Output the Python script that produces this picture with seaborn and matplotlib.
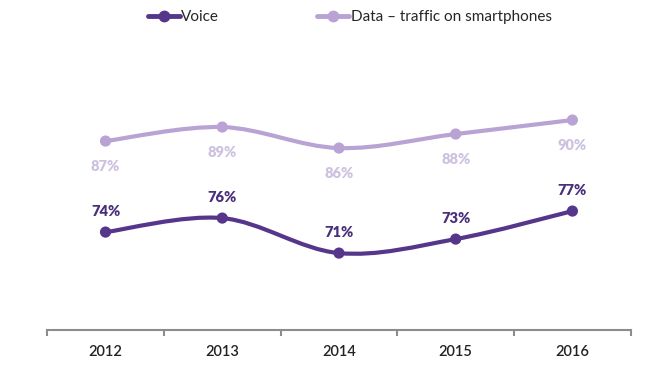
import numpy as np
import pandas as pd
import matplotlib
matplotlib.use("Agg")
import matplotlib.pyplot as plt
from matplotlib.path import Path
from matplotlib.patches import PathPatch
from matplotlib.lines import Line2D
import seaborn as sns

years = ["2012", "2013", "2014", "2015", "2016"]
voice = [74, 76, 71, 73, 77]
data_traffic = [87, 89, 86, 88, 90]
series_names = ["Voice", "Data \u2013 traffic on smartphones"]

sns.set_theme(style="white")
plt.rcParams['font.family'] = ['Lato', 'DejaVu Sans']

VOICE_C = "#56368a"
VOICE_LBL = "#4a2f7c"
DATA_C = "#b9a3d4"
DATA_LBL = "#cdc1e0"

fig = plt.figure(figsize=(6.55, 3.79), dpi=100)
ax = fig.add_axes([0.072, 0.129, 0.891, 0.739])

df = pd.DataFrame({"year": years * 2,
                   "x": list(range(len(years))) * 2,
                   "value": voice + data_traffic,
                   "series": [series_names[0]] * len(years) + [series_names[1]] * len(years)})

def smooth_path(xs, ys):
    # Catmull-Rom style cubic Bezier through the data points (Excel "smoothed line")
    xs = np.asarray(xs, float); ys = np.asarray(ys, float)
    n = len(xs)
    verts = [(xs[0], ys[0])]
    codes = [Path.MOVETO]
    for i in range(n - 1):
        p0 = np.array([xs[max(i - 1, 0)], ys[max(i - 1, 0)]])
        p1 = np.array([xs[i], ys[i]])
        p2 = np.array([xs[i + 1], ys[i + 1]])
        p3 = np.array([xs[min(i + 2, n - 1)], ys[min(i + 2, n - 1)]])
        c1 = p1 + (p2 - p0) / 6.0
        c2 = p2 - (p3 - p1) / 6.0
        verts += [tuple(c1), tuple(c2), tuple(p2)]
        codes += [Path.CURVE4] * 3
    return Path(verts, codes)

for name, vals, col in [(series_names[1], data_traffic, DATA_C), (series_names[0], voice, VOICE_C)]:
    sub = df[df.series == name]
    ax.add_patch(PathPatch(smooth_path(sub.x, sub.value), facecolor="none",
                           edgecolor=col, lw=3.0, capstyle="round", zorder=2))

sns.scatterplot(data=df, x="x", y="value", hue="series",
                palette={series_names[0]: VOICE_C, series_names[1]: DATA_C},
                s=65, edgecolor="none", ax=ax, legend=False, zorder=3)

for i, v in enumerate(voice):
    ax.annotate(f"{v}%", (i, v), xytext=(0, 15), textcoords="offset points",
                ha="center", va="center", fontsize=10.5, fontweight="heavy", color=VOICE_LBL)
for i, v in enumerate(data_traffic):
    ax.annotate(f"{v}%", (i, v), xytext=(0, -18), textcoords="offset points",
                ha="center", va="center", fontsize=10.5, fontweight="heavy", color=DATA_LBL)

ax.set_xlim(-0.5, len(years) - 0.5)
ax.set_ylim(60, 100)
for s in ["top", "right", "left"]:
    ax.spines[s].set_visible(False)
ax.spines["bottom"].set_color("#8c8c8c")
ax.spines["bottom"].set_linewidth(1.5)
ax.set_yticks([])
ax.set_xticks(np.arange(-0.5, len(years), 1.0))
ax.set_xticklabels([])
ax.tick_params(axis="x", which="major", direction="out", length=4, width=1.5, color="#8c8c8c", bottom=True)
ax.set_xticks(range(len(years)), minor=True)
ax.set_xticklabels(years, minor=True, fontweight="semibold")
ax.tick_params(axis="x", which="minor", length=0, pad=11, labelsize=10.5, labelcolor="#222222")
ax.set_xlabel(""); ax.set_ylabel("")

handles = [Line2D([], [], color=VOICE_C, lw=3.5, marker="o", ms=7.5),
           Line2D([], [], color=DATA_C, lw=3.5, marker="o", ms=7.5)]
fig.legend(handles, series_names, loc="center", bbox_to_anchor=(0.534, 0.955), ncol=2,
           frameon=False, fontsize=11, handlelength=2.1, handletextpad=0.1, columnspacing=6.4)

fig.savefig("out.png", dpi=100)
